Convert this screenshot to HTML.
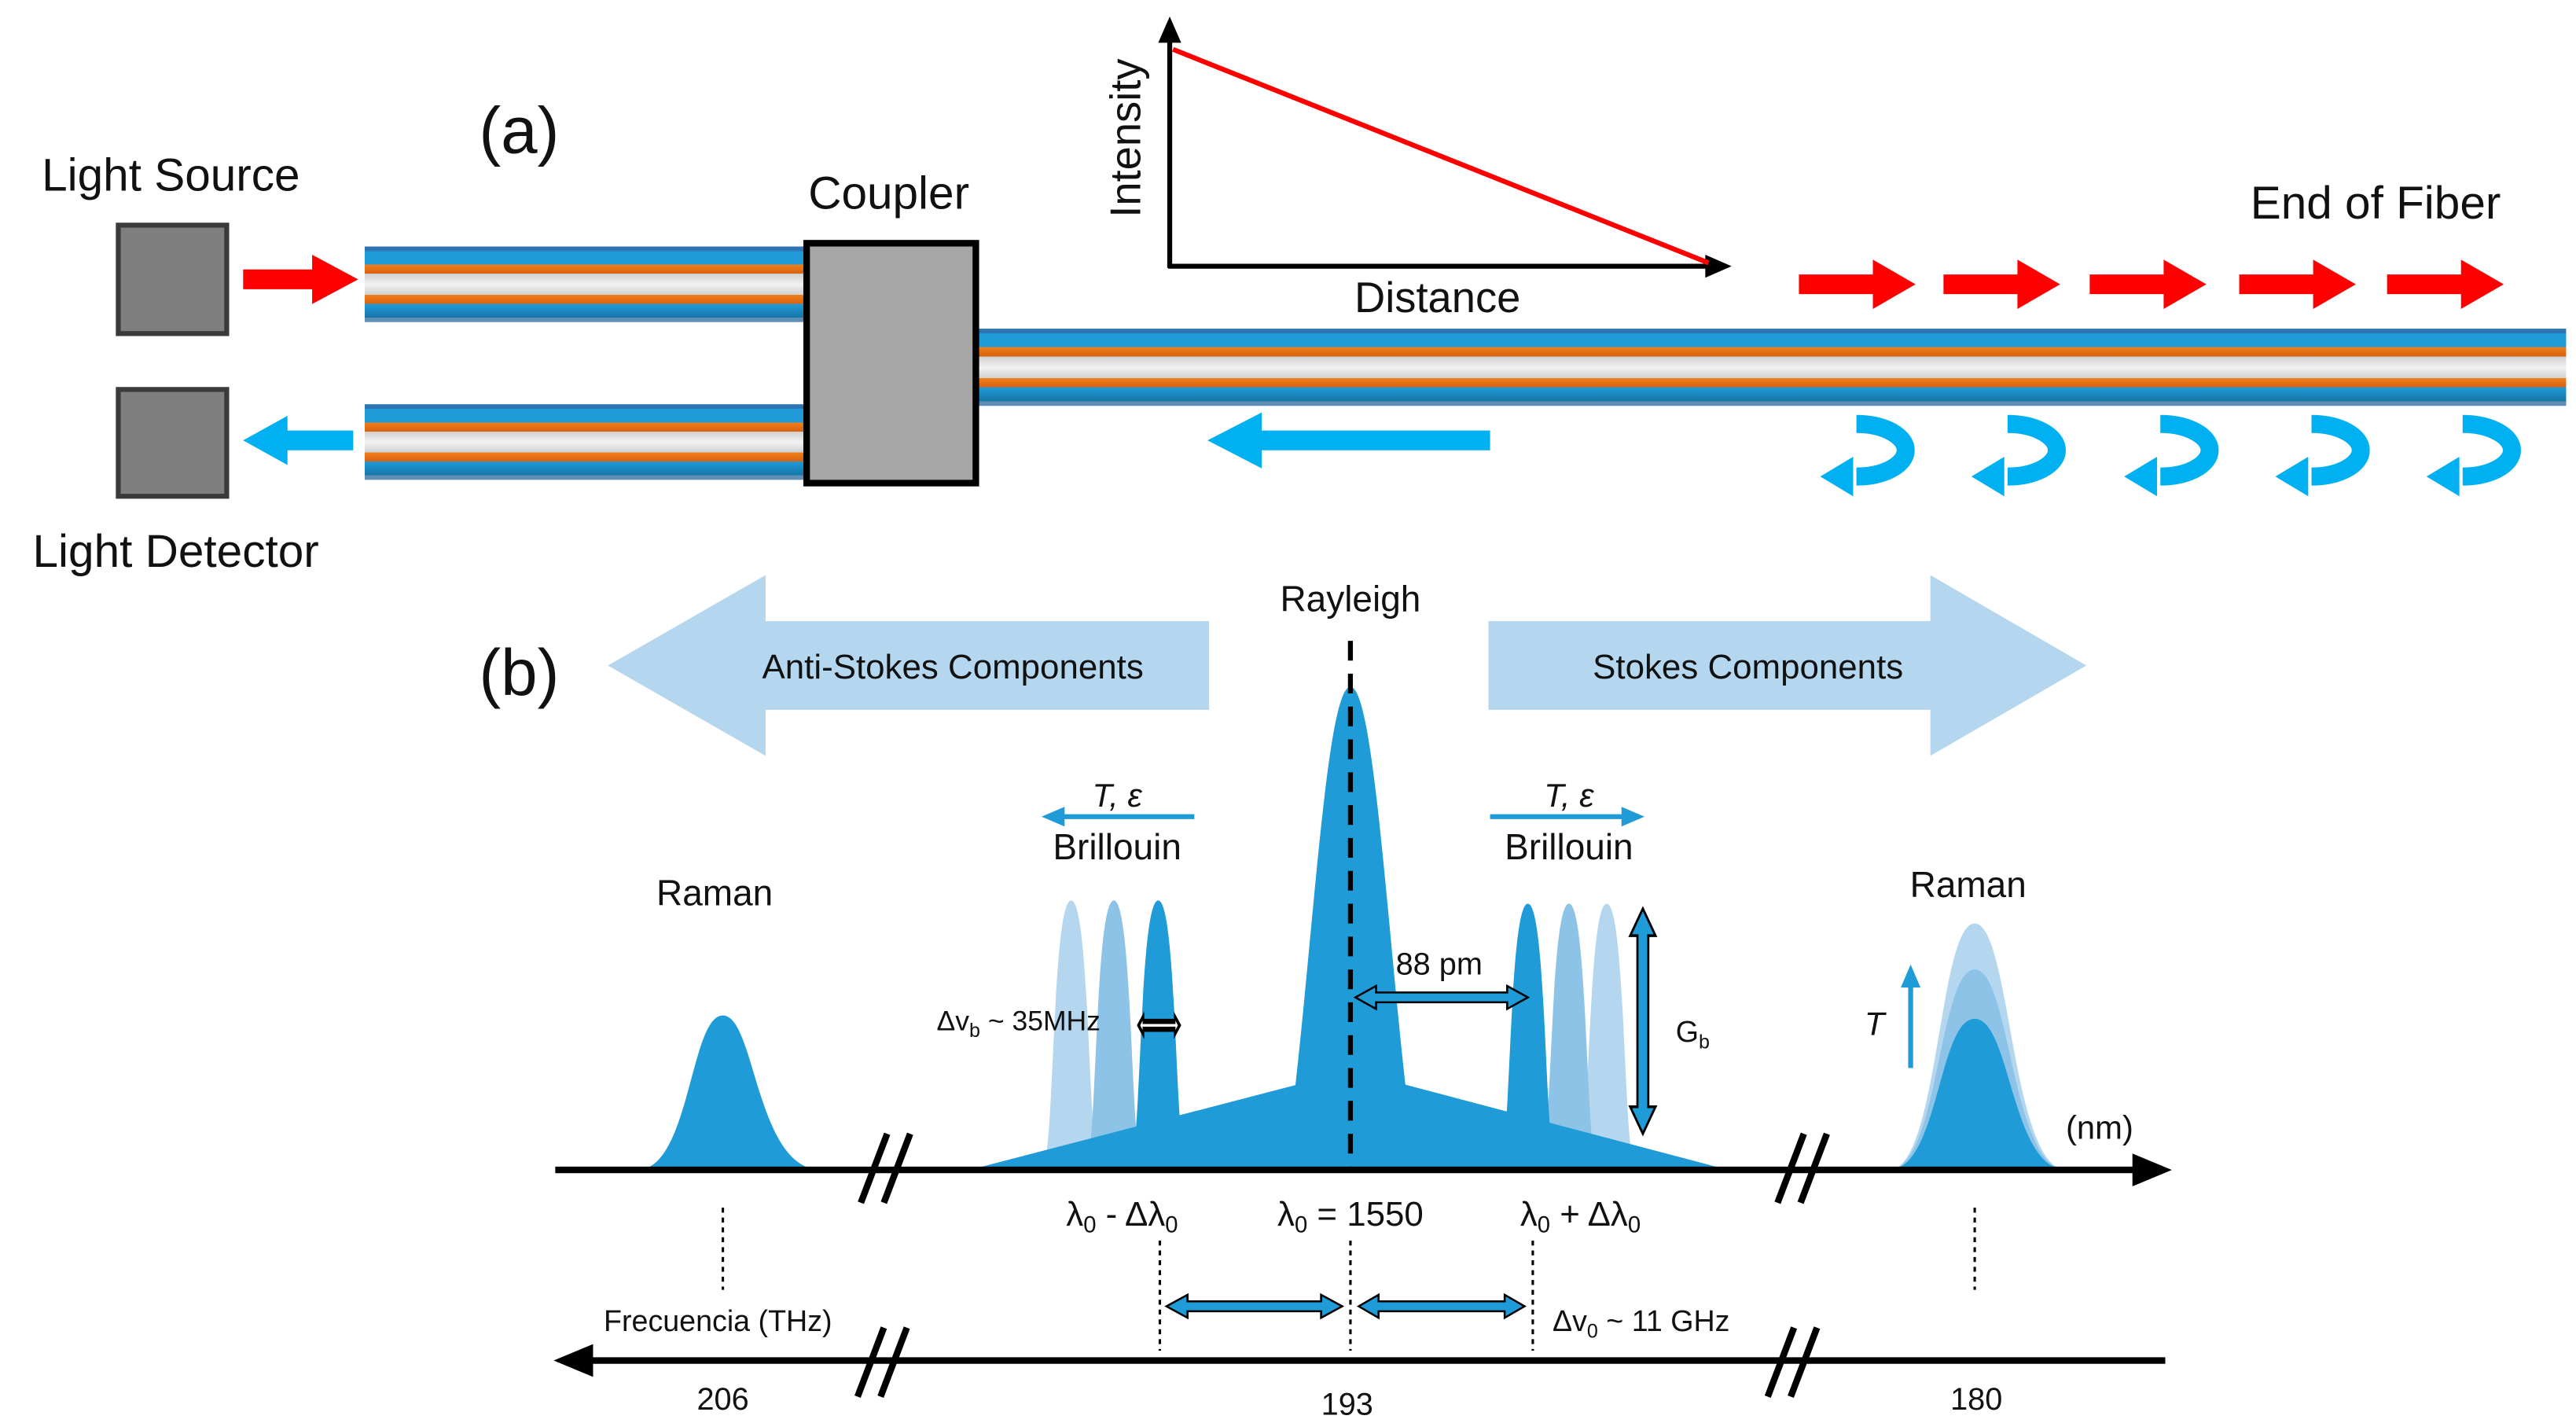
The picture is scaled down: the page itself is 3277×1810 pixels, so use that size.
<!DOCTYPE html>
<html><head><meta charset="utf-8"><style>
html,body{margin:0;padding:0;background:#fff;}
svg{display:block;}
text{font-family:"Liberation Sans","DejaVu Sans",sans-serif;fill:#111;}
</style></head><body>
<svg width="3277" height="1810" viewBox="0 0 1568 866" xmlns="http://www.w3.org/2000/svg">
<defs>
<linearGradient id="fib" x1="0" y1="0" x2="0" y2="1">
<stop offset="0" stop-color="#2e75b6"/><stop offset="0.06" stop-color="#2e75b6"/>
<stop offset="0.06" stop-color="#1f9bd7"/><stop offset="0.24" stop-color="#1f9bd7"/>
<stop offset="0.24" stop-color="#f07f1c"/><stop offset="0.36" stop-color="#d9610f"/>
<stop offset="0.36" stop-color="#d0d0d0"/><stop offset="0.5" stop-color="#f2f2f2"/>
<stop offset="0.64" stop-color="#d0d0d0"/>
<stop offset="0.64" stop-color="#f07f1c"/>
<stop offset="0.76" stop-color="#d9610f"/><stop offset="0.76" stop-color="#1f9bd7"/>
<stop offset="0.94" stop-color="#1675a8"/><stop offset="0.94" stop-color="#5f8fb5"/>
<stop offset="1" stop-color="#5f8fb5"/>
</linearGradient>
<g id="curl"><path d="M22,6 A30,16 0 0 1 22,38" fill="none" stroke="#00b0f0" stroke-width="11"/><polygon points="0,38 20,26 20,50" fill="#00b0f0"/></g>
<g id="dbl"><polygon points="0,0 12,-7 12,-3 88,-3 88,-7 100,0 88,7 88,3 12,3 12,7" fill="#1f9bd7" stroke="#000" stroke-width="1.2"/></g>
</defs>

<!-- (a) -->
<text x="316" y="93" font-size="40" text-anchor="middle">(a)</text>
<text x="104" y="116" font-size="28" text-anchor="middle">Light Source</text>
<text x="107" y="345" font-size="28" text-anchor="middle">Light Detector</text>
<rect x="72" y="137" width="66" height="66" fill="#7f7f7f" stroke="#3a3a3a" stroke-width="3"/>
<rect x="72" y="237" width="66" height="65" fill="#7f7f7f" stroke="#3a3a3a" stroke-width="3"/>
<polygon points="148,164 190,164 190,155 218,170 190,185 190,176 148,176" fill="#ff0000"/>
<polygon points="215,262 175,262 175,253 148,268 175,283 175,274 215,274" fill="#00b0f0"/>
<rect x="222" y="150" width="270" height="46" fill="url(#fib)"/>
<rect x="222" y="246" width="270" height="46" fill="url(#fib)"/>
<rect x="595" y="200" width="967" height="47" fill="url(#fib)"/>
<rect x="491" y="148" width="103" height="146" fill="#a6a6a6" stroke="#000" stroke-width="4"/>
<text x="541" y="127" font-size="28" text-anchor="middle">Coupler</text>

<line x1="712" y1="163" x2="712" y2="14" stroke="#000" stroke-width="3"/>
<polygon points="712,10 705,26 719,26" fill="#000"/>
<line x1="711" y1="162" x2="1048" y2="162" stroke="#000" stroke-width="3"/>
<polygon points="1054,162 1038,155 1038,169" fill="#000"/>
<line x1="714" y1="30" x2="1040" y2="160" stroke="#ff0000" stroke-width="3"/>
<text x="0" y="0" font-size="26" text-anchor="middle" transform="translate(694,84) rotate(-90)">Intensity</text>
<text x="875" y="190" font-size="26" text-anchor="middle">Distance</text>
<text x="1446" y="133" font-size="28" text-anchor="middle">End of Fiber</text>
<g fill="#ff0000">
<polygon points="1095,167 1140,167 1140,158 1166,173 1140,188 1140,179 1095,179"/>
<polygon points="1183,167 1228,167 1228,158 1254,173 1228,188 1228,179 1183,179"/>
<polygon points="1272,167 1317,167 1317,158 1343,173 1317,188 1317,179 1272,179"/>
<polygon points="1363,167 1408,167 1408,158 1434,173 1408,188 1408,179 1363,179"/>
<polygon points="1453,167 1498,167 1498,158 1524,173 1498,188 1498,179 1453,179"/>
</g>
<polygon points="907,262 768,262 768,251 735,268 768,285 768,274 907,274" fill="#00b0f0"/>
<use href="#curl" x="1108" y="252"/>
<use href="#curl" x="1200" y="252"/>
<use href="#curl" x="1293" y="252"/>
<use href="#curl" x="1385" y="252"/>
<use href="#curl" x="1477" y="252"/>

<!-- (b) -->
<text x="316" y="423" font-size="40" text-anchor="middle">(b)</text>
<polygon points="736,378 466,378 466,350 370,405 466,460 466,432 736,432" fill="#b4d7ef"/>
<polygon points="906,378 1175,378 1175,350 1270,405 1175,460 1175,432 906,432" fill="#b4d7ef"/>
<text x="580" y="413" font-size="21" text-anchor="middle">Anti-Stokes Components</text>
<text x="1064" y="413" font-size="21" text-anchor="middle">Stokes Components</text>
<text x="822" y="372" font-size="22" text-anchor="middle">Rayleigh</text>

<!-- spectrum -->
<g>
<path d="M634,712 C642,712 640,548 652,548 C664,548 662,712 670,712 Z" fill="#b4d7ef"/>
<path d="M660,712 C668,712 666,548 678,548 C690,548 688,712 696,712 Z" fill="#8cc3e6"/>
<path d="M687,712 C695,712 693,548 705,548 C717,548 715,712 723,712 Z" fill="#1f9bd7"/>
<path d="M960,712 C968,712 966,550 978,550 C990,550 988,712 996,712 Z" fill="#b4d7ef"/>
<path d="M937,712 C945,712 943,550 955,550 C967,550 965,712 973,712 Z" fill="#8cc3e6"/>
<path d="M912,712 C920,712 918,550 930,550 C942,550 940,712 948,712 Z" fill="#1f9bd7"/>
<polygon points="590,712 790,660 855,660 1052,712" fill="#1f9bd7"/>
<path d="M788,665 C800,560 808,418 822,418 C836,418 844,560 856,665 Z" fill="#1f9bd7"/>
<path d="M388,712 C420,712 420,618 440,618 C460,618 460,712 500,712 Z" fill="#1f9bd7"/>
<path d="M1150,712 C1180,712 1180,562 1202,562 C1224,562 1224,712 1258,712 Z" fill="#b4d7ef"/>
<path d="M1150,712 C1180,712 1180,590 1202,590 C1224,590 1224,712 1258,712 Z" fill="#8cc3e6"/>
<path d="M1150,712 C1180,712 1180,620 1202,620 C1224,620 1224,712 1258,712 Z" fill="#1f9bd7"/>
</g>
<line x1="822" y1="390" x2="822" y2="712" stroke="#000" stroke-width="3" stroke-dasharray="12,8"/>

<!-- axes -->
<line x1="338" y1="712" x2="1300" y2="712" stroke="#000" stroke-width="4"/>
<polygon points="1322,712 1298,702 1298,722" fill="#000"/>
<line x1="358" y1="828" x2="1318" y2="828" stroke="#000" stroke-width="4"/>
<polygon points="337,828 361,818 361,838" fill="#000"/>
<g stroke="#000" stroke-width="4">
<line x1="524" y1="732" x2="540" y2="690"/><line x1="538" y1="732" x2="554" y2="690"/>
<line x1="1082" y1="732" x2="1098" y2="690"/><line x1="1096" y1="732" x2="1112" y2="690"/>
<line x1="522" y1="850" x2="538" y2="808"/><line x1="536" y1="850" x2="552" y2="808"/>
<line x1="1076" y1="850" x2="1092" y2="808"/><line x1="1090" y1="850" x2="1106" y2="808"/>
</g>
<text x="1278" y="693" font-size="20" text-anchor="middle">(nm)</text>

<!-- labels -->
<text x="435" y="551" font-size="22" text-anchor="middle">Raman</text>
<text x="1198" y="546" font-size="22" text-anchor="middle">Raman</text>
<text x="680" y="523" font-size="22" text-anchor="middle">Brillouin</text>
<text x="955" y="523" font-size="22" text-anchor="middle">Brillouin</text>
<text x="680" y="491" font-size="20" text-anchor="middle" font-style="italic">T, ε</text>
<text x="955" y="491" font-size="20" text-anchor="middle" font-style="italic">T, ε</text>
<line x1="645" y1="497" x2="727" y2="497" stroke="#1f9bd7" stroke-width="3"/>
<polygon points="634,497 648,491 648,503" fill="#1f9bd7"/>
<line x1="907" y1="497" x2="990" y2="497" stroke="#1f9bd7" stroke-width="3"/>
<polygon points="1001,497 987,491 987,503" fill="#1f9bd7"/>

<text x="876" y="593" font-size="19" text-anchor="middle">88 pm</text>
<g transform="translate(825,607) scale(1.05,1)"><use href="#dbl"/></g>
<text x="620" y="627" font-size="17" text-anchor="middle">Δv<tspan font-size="12" dy="4">b</tspan><tspan dy="-4"> ~ 35MHz</tspan></text>
<g transform="translate(693,624) scale(0.25,0.8)"><polygon points="0,0 12,-7 12,-3 88,-3 88,-7 100,0 88,7 88,3 12,3 12,7" fill="#fff" stroke="#000" stroke-width="4"/></g>
<g transform="translate(1000,553) rotate(90) scale(1.37,1.1)"><use href="#dbl"/></g>
<text x="1020" y="634" font-size="18">G<tspan font-size="12" dy="4">b</tspan></text>
<line x1="1163" y1="650" x2="1163" y2="598" stroke="#1f9bd7" stroke-width="3"/>
<polygon points="1163,587 1157,601 1169,601" fill="#1f9bd7"/>
<text x="1141" y="630" font-size="20" font-style="italic" text-anchor="middle">T</text>

<text x="683" y="746" font-size="21" text-anchor="middle">λ<tspan font-size="14" dy="4">0</tspan><tspan dy="-4"> - Δλ</tspan><tspan font-size="14" dy="4">0</tspan></text>
<text x="822" y="746" font-size="21" text-anchor="middle">λ<tspan font-size="14" dy="4">0</tspan><tspan dy="-4"> = 1550</tspan></text>
<text x="962" y="746" font-size="21" text-anchor="middle">λ<tspan font-size="14" dy="4">0</tspan><tspan dy="-4"> + Δλ</tspan><tspan font-size="14" dy="4">0</tspan></text>
<g stroke="#000" stroke-width="1.5" stroke-dasharray="3,3">
<line x1="440" y1="735" x2="440" y2="785"/>
<line x1="706" y1="755" x2="706" y2="822"/>
<line x1="822" y1="755" x2="822" y2="822"/>
<line x1="933" y1="755" x2="933" y2="822"/>
<line x1="1202" y1="735" x2="1202" y2="785"/>
</g>
<g transform="translate(710,795) scale(1.07,1)"><use href="#dbl"/></g>
<g transform="translate(827,795) scale(1.01,1)"><use href="#dbl"/></g>
<text x="945" y="810" font-size="18">Δv<tspan font-size="12" dy="4">0</tspan><tspan dy="-4"> ~ 11 GHz</tspan></text>
<text x="437" y="810" font-size="18" text-anchor="middle">Frecuencia (THz)</text>
<text x="440" y="858" font-size="19" text-anchor="middle">206</text>
<text x="820" y="861" font-size="19" text-anchor="middle">193</text>
<text x="1203" y="858" font-size="19" text-anchor="middle">180</text>
</svg>
</body></html>
